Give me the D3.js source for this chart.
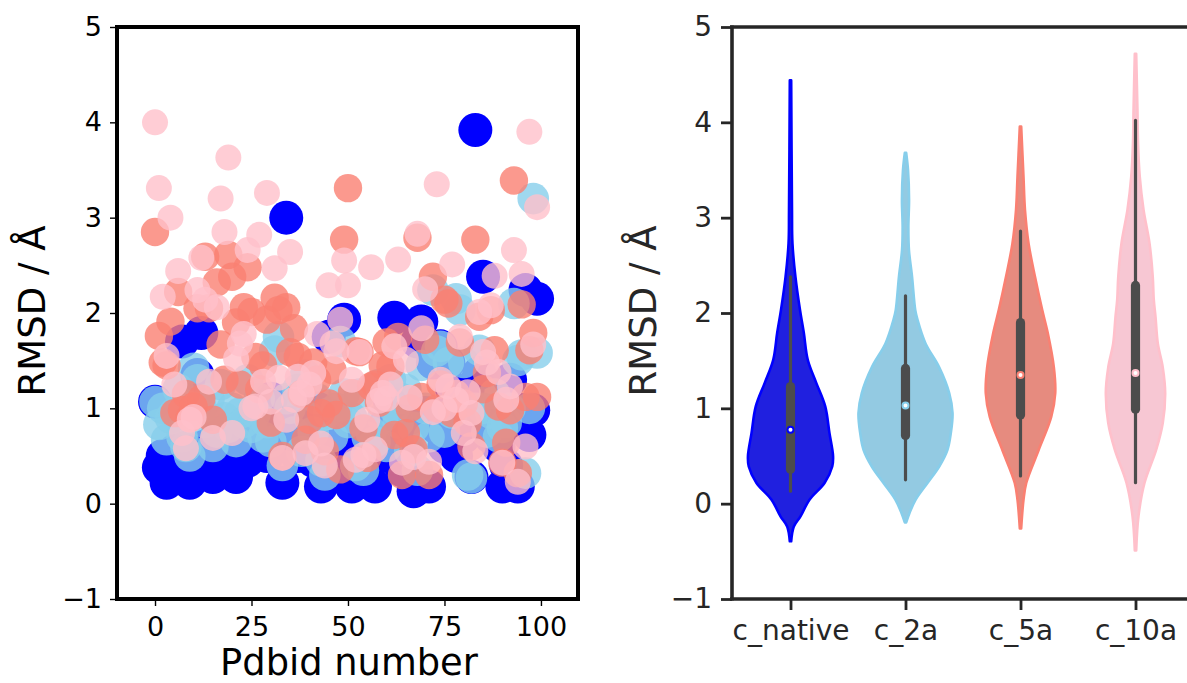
<!DOCTYPE html>
<html><head><meta charset="utf-8">
<script src="https://cdn.jsdelivr.net/npm/d3@7/dist/d3.min.js"></script>
<style>html,body{margin:0;padding:0;background:#fff}svg{display:block}text{font-family:"DejaVu Sans",sans-serif}</style>
</head><body><svg id="c" width="1187" height="683"></svg>
<script>
const blueRmsd=[1.07,.38,.5,.22,.45,.55,.35,1.7,.3,.22,.55,1.35,1.79,.6,.45,.28,.7,.35,.5,.4,.6,.28,.55,.8,.45,.7,.52,.65,.9,.5,1.1,.7,.6,.22,3.0,.85,.85,.5,.75,.9,.6,.45,1.0,.18,.25,1.75,.6,.4,.3,1.93,.7,.18,.5,.35,.6,.3,.55,.18,.75,.5,.85,1.05,1.95,.65,.35,.55,.9,.13,1.7,1.91,.95,.18,1.48,.8,1.65,.6,1.48,1.2,.5,.95,.7,1.2,.28,3.92,1.37,2.38,.75,.7,.9,.6,.18,.4,1.3,.85,.18,.98,2.24,.72,.98,2.15];
const skyRmsd=[1.07,.83,1.0,.67,.9,.95,1.2,.7,.6,.5,1.42,1.3,1.0,.85,1.1,.6,.75,1.25,.9,.8,1.0,.65,.95,.85,1.3,.8,.95,1.1,.7,.85,.65,1.6,1.75,.4,1.1,1.0,.75,1.2,.55,1.35,.9,.75,1.1,.45,.3,.95,.7,1.0,1.7,1.15,.85,.9,.4,1.15,.35,.7,.75,.65,1.25,.9,.6,1.3,1.0,.85,1.1,1.2,.55,.8,.35,1.45,1.0,.7,2.24,1.6,1.65,.75,1.48,.95,2.15,2.03,1.48,.3,.27,1.0,1.61,1.0,.75,.95,1.15,.7,.8,.85,1.0,2.1,1.5,1.56,.32,1.0,3.2,1.58];
const salmonRmsd=[2.85,1.76,1.48,1.45,1.91,.95,2.22,.98,1.15,.9,1.02,2.05,1.1,2.59,2.05,.88,2.32,1.67,1.3,2.61,2.38,1.9,1.25,2.06,2.48,2.01,1.54,1.2,1.45,1.93,.85,2.16,2.03,.5,2.06,1.59,1.84,1.54,1.15,.67,.88,1.48,1.3,.95,.55,1.05,1.4,.93,.36,2.77,3.31,1.16,1.6,1.59,.79,.48,1.23,1.25,1.06,1.45,1.69,1.44,.72,1.75,.3,.74,1.0,.57,2.79,1.12,1.72,.3,2.38,1.0,1.25,2.14,2.1,.95,1.15,1.69,1.05,.85,.6,2.77,1.96,1.2,1.37,2.03,1.61,1.02,.43,.64,.98,3.39,.32,2.09,1.12,1.61,1.79,1.12];
const pinkRmsd=[4.0,3.31,2.17,1.55,3.0,1.25,2.44,.74,.58,.88,.91,2.24,2.58,2.14,1.28,.69,2.06,3.2,2.85,3.63,.74,1.52,1.68,1.78,2.66,1.0,1.02,2.82,1.28,3.26,1.07,2.47,1.32,.48,.88,2.64,1.09,1.33,1.16,.53,1.25,1.37,1.78,.63,.4,2.29,1.68,1.6,1.93,2.55,2.29,1.3,.46,1.59,.51,.88,2.48,.57,1.08,1.16,1.1,1.25,1.65,2.56,.43,1.51,1.11,.49,2.83,1.84,2.25,.44,.96,3.35,1.3,1.0,1.23,2.51,1.09,1.75,.74,1.17,.95,.55,2.01,1.59,1.48,2.08,2.39,1.38,.43,1.09,1.23,2.66,.23,2.41,.6,3.9,1.67,3.11];

const violinNames=["c_native","c_2a","c_5a","c_10a"];
const yTickValues=[-1,0,1,2,3,4,5];
const xTickValues=[0,25,50,75,100];

// violin outlines: rmsd level and half width (category-axis units)
const nativeLevels=[-.395,-.24,-.133,.042,.217,.39,.5,.74,1.02,1.27,1.51,1.79,2.03,2.38,2.73,3.08,4.44];
const nativeWidths=[.006,.029,.087,.165,.296,.363,.37,.339,.302,.223,.15,.116,.083,.043,.017,.013,.006];
const twoLevels=[-.196,-.098,.04,.217,.39,.566,.74,.95,1.16,1.43,1.68,1.93,2.03,2.38,2.66,2.9,3.19,3.5,3.68];
const twoWidths=[.006,.035,.087,.191,.293,.365,.394,.409,.38,.293,.174,.104,.085,.057,.03,.025,.031,.022,.006];
const fiveLevels=[-.26,.04,.217,.56,.91,1.16,1.43,1.79,2.03,2.38,2.73,3.08,3.43,3.955];
const fiveWidths=[.006,.026,.05,.157,.267,.302,.29,.237,.189,.126,.07,.039,.026,.006];
const tenLevels=[-.49,-.13,.217,.566,.846,1.16,1.43,1.68,1.96,2.14,2.38,2.73,3.08,3.43,3.78,4.13,4.72];
const tenWidths=[.006,.026,.078,.18,.237,.258,.237,.194,.174,.159,.15,.122,.07,.037,.022,.017,.006];
// box stats: low whisker, q1, median, q3, high whisker
const whiskLow=[.13,.25,.29,.22];
const quart1=[.34,.695,.91,.97];
const medians=[.776,1.03,1.35,1.37];
const quart3=[1.25,1.44,1.92,2.31];
const whiskHigh=[2.38,2.18,2.86,4.02];
const seriesColors=["blue","skyblue","salmon","pink"];
const violinFills=["#2020df","#93cae2","#e68b7f","#f7c7d3"];

const svg=d3.select("#c");
const yL=d3.scaleLinear().domain([-1,5]).range([599,27]);
const xL=d3.scaleLinear().domain([-9.85,109.6]).range([117,578]);
const fmt=d=>String(d).replace("-","\u2212");

// Left panel
const left=svg.append("g");
[[blueRmsd,17,1,"blue"],[skyRmsd,15.8,.8,"skyblue"],[salmonRmsd,14.2,.8,"salmon"],[pinkRmsd,13,.8,"pink"]].forEach(([vals,r,a,col])=>{
  left.append("g").selectAll("circle").data(vals).join("circle")
    .attr("cx",(d,i)=>xL(i)).attr("cy",d=>yL(d)).attr("r",r).attr("fill",col).attr("fill-opacity",a);
});
function styleAxis(g,color,w,size){
  g.selectAll(".domain").remove();
  g.selectAll("line").attr("stroke",color).attr("stroke-width",w);
  g.selectAll("text").attr("fill",color).attr("font-size",size);
}
const ax1=left.append("g").attr("transform","translate(117,0)").call(d3.axisLeft(yL).tickValues(yTickValues).tickFormat(fmt).tickSize(7).tickPadding(8));
styleAxis(ax1,"#000",1.4,27);
const ax2=left.append("g").attr("transform","translate(0,599)").call(d3.axisBottom(xL).tickValues(xTickValues).tickFormat(fmt).tickSize(7).tickPadding(11));
styleAxis(ax2,"#000",1.4,27);
left.append("rect").attr("x",117).attr("y",27).attr("width",461).attr("height",572).attr("fill","none").attr("stroke","#000").attr("stroke-width",4);
left.append("text").attr("transform","translate(45,311) rotate(-90)").attr("text-anchor","middle").attr("font-size",37).attr("fill","#000").text("RMSD / Å");
left.append("text").attr("x",349).attr("y",674.5).attr("text-anchor","middle").attr("font-size",36.8).attr("fill","#000").text("Pdbid number");

// Right panel
const dark="#262626";
const xR=d3.scalePoint().domain(violinNames).range([790.5,1135.5]);
const unit=xR.step();
const violinData=[[nativeLevels,nativeWidths],[twoLevels,twoWidths],[fiveLevels,fiveWidths],[tenLevels,tenWidths]];
const right=svg.append("g");
violinNames.forEach((name,k)=>{
  const [lv,wd]=violinData[k], cx=xR(name);
  const pts=lv.map((v,i)=>[v,wd[i]]);
  const area=d3.area().curve(d3.curveCatmullRom.alpha(.5))
    .y(d=>yL(d[0])).x0(d=>cx-d[1]*unit).x1(d=>cx+d[1]*unit);
  right.append("path").attr("d",area(pts)).attr("fill",violinFills[k]).attr("stroke",seriesColors[k]).attr("stroke-width",2.6).attr("stroke-linejoin","round");
  right.append("line").attr("x1",cx).attr("x2",cx).attr("y1",yL(whiskLow[k])).attr("y2",yL(whiskHigh[k])).attr("stroke","#4c4c4c").attr("stroke-width",3.2).attr("stroke-linecap","round");
  right.append("line").attr("x1",cx).attr("x2",cx).attr("y1",yL(quart1[k])-2).attr("y2",yL(quart3[k])+2).attr("stroke","#4c4c4c").attr("stroke-width",9.2).attr("stroke-linecap","round");
  right.append("circle").attr("cx",cx).attr("cy",yL(medians[k])).attr("r",3).attr("fill","#fff").attr("stroke",seriesColors[k]).attr("stroke-width",2);
});
const ax3=right.append("g").attr("transform","translate(732,0)").call(d3.axisLeft(yL).tickValues(yTickValues).tickFormat(fmt).tickSize(11).tickPadding(9));
styleAxis(ax3,dark,2.8,28);
const ax4=right.append("g").attr("transform","translate(0,599)").call(d3.axisBottom(xR).tickSize(11).tickPadding(10));
styleAxis(ax4,dark,2.8,28);
right.append("line").attr("x1",732).attr("x2",732).attr("y1",25.5).attr("y2",600.5).attr("stroke",dark).attr("stroke-width",3.6);
right.append("line").attr("x1",730).attr("x2",1187).attr("y1",27).attr("y2",27).attr("stroke",dark).attr("stroke-width",3.6);
right.append("line").attr("x1",730).attr("x2",1187).attr("y1",599).attr("y2",599).attr("stroke",dark).attr("stroke-width",3.6);
right.append("text").attr("transform","translate(656,311) rotate(-90)").attr("text-anchor","middle").attr("font-size",37).attr("fill",dark).text("RMSD / Å");
</script></body></html>
